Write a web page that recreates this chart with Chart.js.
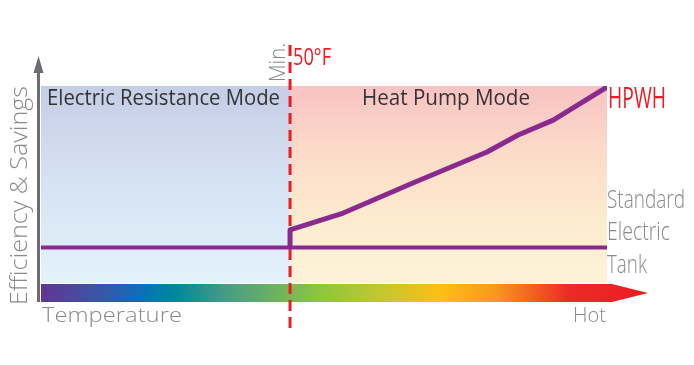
<!DOCTYPE html>
<html>
<head>
<meta charset="utf-8">
<script src="https://cdn.jsdelivr.net/npm/chart.js@4/dist/chart.umd.min.js"></script>
<style>
  body { margin: 0; background: #fff; }
  canvas { display: block; }
</style>
</head>
<body>
<canvas id="hpwhChart" width="694" height="365"></canvas>
<script>
    // data (x = temperature position 0..100, y = efficiency 0..100)
    const thresholdX = 44;
    const standardX = [0, 100];
    const standardY = [18, 18];
    const hpwhX = [44, 44, 53.4, 65.7, 78.8, 84.3, 90.5, 100];
    const hpwhY = [18, 27, 35.5, 50.8, 66.5, 75.1, 82.7, 99.5];
    const modeLabels = ['Electric Resistance Mode', 'Heat Pump Mode'];
    const seriesLabels = ['HPWH', 'Standard', 'Electric', 'Tank'];
    const axisLabels = ['Efficiency & Savings', 'Temperature', 'Hot'];
    const thresholdLabels = ['Min.', '50°F'];

    const purple = '#8a2a8e';
    const red = '#ed1c24';
    const grey = '#8a8a8d';

    function toPoints(xs, ys) {
        return xs.map((x, i) => ({ x: x, y: ys[i] }));
    }

    // squeeze text to the width it has in the original (condensed face)
    function fitText(ctx, str, x, y, w, size, color, weight, rot) {
        ctx.save();
        ctx.font = (weight || 400) + ' ' + size + 'px "Open Sans", sans-serif';
        const m = ctx.measureText(str).width;
        ctx.translate(x, y);
        if (rot) ctx.rotate(rot);
        ctx.scale(w / m, 1);
        ctx.fillStyle = color;
        ctx.textBaseline = 'alphabetic';
        ctx.textAlign = 'left';
        ctx.fillText(str, 0, 0);
        ctx.restore();
    }

    const backdrop = {
        id: 'backdrop',
        beforeDatasetsDraw(chart) {
            const ctx = chart.ctx;
            const a = chart.chartArea;
            const xs = chart.scales.x;
            const tx = xs.getPixelForValue(thresholdX);
            ctx.save();
            // left panel
            let g = ctx.createLinearGradient(0, a.top, 0, a.bottom);
            g.addColorStop(0, '#c6cde6');
            g.addColorStop(0.5, '#d6e3f3');
            g.addColorStop(1, '#e4f2fb');
            ctx.fillStyle = g;
            ctx.fillRect(a.left, a.top, tx - a.left, a.bottom - a.top);
            // right panel
            g = ctx.createLinearGradient(0, a.top, 0, a.bottom);
            g.addColorStop(0, '#f9c2c3');
            g.addColorStop(0.35, '#fcdcc9');
            g.addColorStop(0.7, '#fdeccf');
            g.addColorStop(1, '#fdf3d8');
            ctx.fillStyle = g;
            ctx.fillRect(tx, a.top, a.right - tx, a.bottom - a.top);

            // temperature bar with arrow
            const barTop = a.bottom + 1, barBot = a.bottom + 19;
            const bodyEnd = a.right + 5, tip = a.right + 41;
            g = ctx.createLinearGradient(a.left, 0, tip, 0);
            g.addColorStop(0.00, '#5f3694');
            g.addColorStop(0.09, '#3c54a4');
            g.addColorStop(0.17, '#0a71b8');
            g.addColorStop(0.22, '#00879b');
            g.addColorStop(0.31, '#4b9d82');
            g.addColorStop(0.46, '#8cc640');
            g.addColorStop(0.56, '#c3c72f');
            g.addColorStop(0.66, '#fdbf12');
            g.addColorStop(0.75, '#f7981d');
            g.addColorStop(0.87, '#ec2a26');
            g.addColorStop(1.00, '#ed1c24');
            ctx.fillStyle = g;
            ctx.beginPath();
            ctx.moveTo(a.left, barTop);
            ctx.lineTo(bodyEnd, barTop);
            ctx.lineTo(tip, (barTop + barBot) / 2);
            ctx.lineTo(bodyEnd, barBot);
            ctx.lineTo(a.left, barBot);
            ctx.closePath();
            ctx.fill();

            // y axis arrow
            ctx.fillStyle = '#6d6e71';
            ctx.fillRect(a.left - 4, a.top - 16, 3, barBot - a.top + 16);
            ctx.beginPath();
            ctx.moveTo(a.left - 2.5, a.top - 30);
            ctx.lineTo(a.left - 7.5, a.top - 13);
            ctx.lineTo(a.left + 2.5, a.top - 13);
            ctx.closePath();
            ctx.fill();

            // threshold dashed line
            ctx.strokeStyle = red;
            ctx.lineWidth = 3;
            ctx.setLineDash([11, 6]);
            ctx.beginPath();
            ctx.moveTo(tx, a.top - 41);
            ctx.lineTo(tx, a.bottom + 45);
            ctx.stroke();
            ctx.restore();
        },
        afterDatasetsDraw(chart) {
            const ctx = chart.ctx;
            const a = chart.chartArea;
            const tx = chart.scales.x.getPixelForValue(thresholdX);
            // mode labels
            fitText(ctx, modeLabels[0], a.left + 6, a.top + 19, 233, 21, '#333333', 400);
            fitText(ctx, modeLabels[1], tx + 72, a.top + 19, 168, 21, '#333333', 400);
            // threshold
            fitText(ctx, thresholdLabels[0], tx - 5, a.top - 4, 39, 22, grey, 300, -Math.PI / 2);
            fitText(ctx, thresholdLabels[1], tx + 3, a.top - 21, 38, 24, red, 400);
            // series labels
            fitText(ctx, seriesLabels[0], a.right + 1, a.top + 22, 58, 29, red, 400);
            fitText(ctx, seriesLabels[1], a.right, a.top + 122, 78, 25, grey, 300);
            fitText(ctx, seriesLabels[2], a.right, a.top + 154, 63, 25, grey, 300);
            fitText(ctx, seriesLabels[3], a.right, a.top + 187, 40, 25, grey, 300);
            // axis labels
            fitText(ctx, axisLabels[0], 27, a.bottom + 22, 219, 24, grey, 300, -Math.PI / 2);
            fitText(ctx, axisLabels[1], a.left + 1, a.bottom + 39, 140, 21, grey, 300);
            fitText(ctx, axisLabels[2], a.right - 34, a.bottom + 39, 33, 21, grey, 300);
        }
    };

    const ctx = document.getElementById('hpwhChart').getContext('2d');
    new Chart(ctx, {
        type: 'line',
        data: {
            datasets: [{
                label: 'Standard Electric Tank',
                data: toPoints(standardX, standardY),
                borderColor: purple,
                borderWidth: 4,
                pointRadius: 0,
                tension: 0
            }, {
                label: 'HPWH',
                data: toPoints(hpwhX, hpwhY),
                borderColor: purple,
                borderWidth: 5,
                borderJoinStyle: 'round',
                pointRadius: 0,
                tension: 0
            }]
        },
        options: {
            responsive: false,
            animation: false,
            devicePixelRatio: 1,
            layout: { padding: { left: 41, right: 87, top: 86, bottom: 82 } },
            plugins: {
                legend: { display: false },
                tooltip: { enabled: false }
            },
            scales: {
                x: { type: 'linear', min: 0, max: 100, display: false },
                y: { type: 'linear', min: 0, max: 100, display: false }
            }
        },
        plugins: [backdrop]
    });
</script>
</body>
</html>
